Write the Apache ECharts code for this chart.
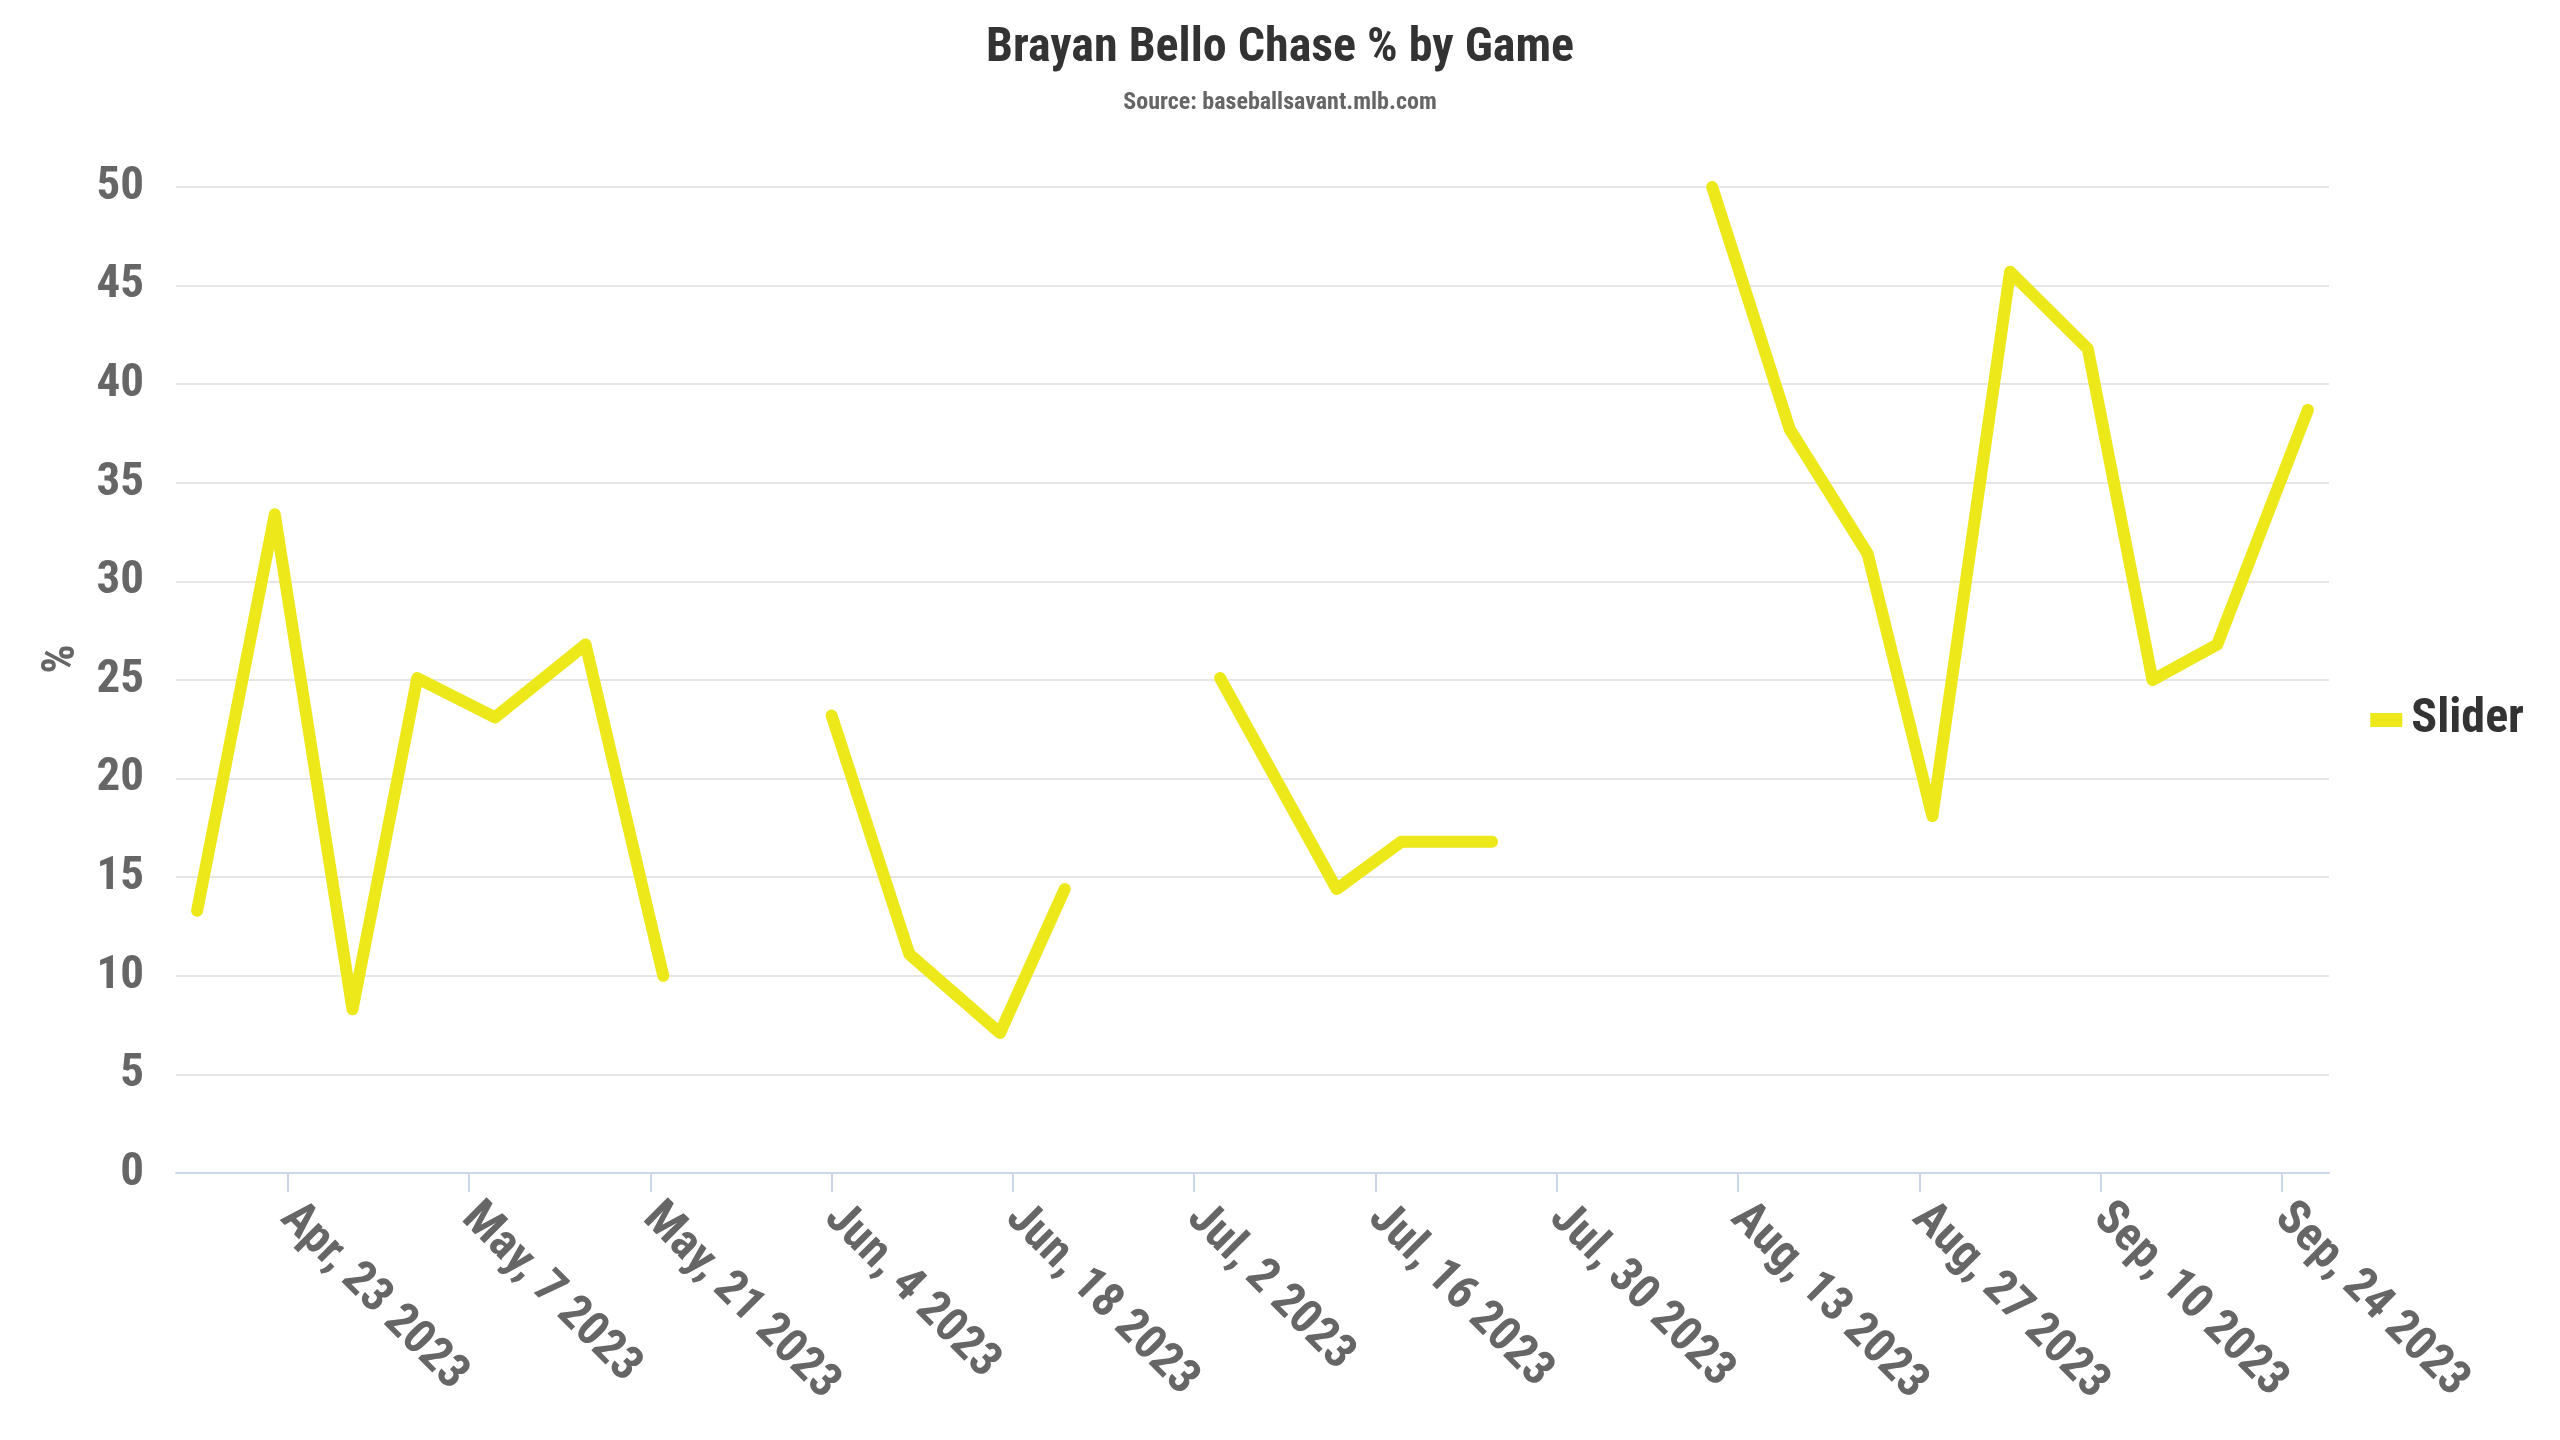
<!DOCTYPE html>
<html>
<head>
<meta charset="utf-8">
<title>Brayan Bello Chase % by Game</title>
<script src="https://cdn.jsdelivr.net/npm/echarts@6/dist/echarts.min.js"></script>
<style>
  html, body { margin: 0; padding: 0; background: #fff; }
  #chart { width: 2560px; height: 1440px; }
</style>
</head>
<body>
<div id="chart"></div>
<script>
// game dates (null = game without a slider reading, breaks the line)
const gameDates = [
  '2023-04-16', '2023-04-22', '2023-04-28', '2023-05-03', '2023-05-09',
  '2023-05-16', '2023-05-22', '2023-05-28', '2023-06-04', '2023-06-10',
  '2023-06-17', '2023-06-22', '2023-06-28', '2023-07-04', '2023-07-13',
  '2023-07-18', '2023-07-25', '2023-08-04', '2023-08-11', '2023-08-17',
  '2023-08-23', '2023-08-28', '2023-09-03', '2023-09-09', '2023-09-14',
  '2023-09-19', '2023-09-26'
];
const sliderChase = [
  13.3, 33.4, 8.3, 25.1, 23.1,
  26.8, 10.0, null, 23.2, 11.1,
  7.1, 14.4, null, 25.1, 14.4,
  16.8, 16.8, null, 50.0, 37.7,
  31.4, 18.1, 45.7, 41.8, 25.0,
  26.8, 38.7
];
const tickDates = [
  '2023-04-23', '2023-05-07', '2023-05-21', '2023-06-04', '2023-06-18',
  '2023-07-02', '2023-07-16', '2023-07-30', '2023-08-13', '2023-08-27',
  '2023-09-10', '2023-09-24'
];
const yTicks = [0, 5, 10, 15, 20, 25, 30, 35, 40, 45, 50];
const monthNames = ['Jan', 'Feb', 'Mar', 'Apr', 'May', 'Jun', 'Jul', 'Aug', 'Sep', 'Oct', 'Nov', 'Dec'];

const FONT = "'Roboto Condensed', Roboto, sans-serif";

function toTs(s) {
  return new Date(s + 'T00:00:00').getTime();
}

const seriesData = gameDates.map((d, i) => [toTs(d), sliderChase[i]]);
const tickValues = tickDates.map(toTs);

// 1% padding on both ends of the date range
const first = toTs(gameDates[0]);
const last = toTs(gameDates[gameDates.length - 1]);
const pad = (last - first) * 0.01;

const chart = echarts.init(document.getElementById('chart'));

const option = {
  animation: false,
  backgroundColor: '#ffffff',
  title: {
    text: 'Brayan Bello Chase % by Game',
    subtext: 'Source: baseballsavant.mlb.com',
    left: 'center',
    top: 20,
    itemGap: 18,
    textStyle: {
      fontFamily: FONT,
      fontWeight: 'bold',
      fontSize: 48,
      color: '#333333'
    },
    subtextStyle: {
      fontFamily: FONT,
      fontWeight: 'bold',
      fontSize: 24,
      color: '#666666'
    }
  },
  legend: {
    orient: 'vertical',
    right: 31,
    top: 'middle',
    icon: 'rect',
    itemWidth: 32,
    itemHeight: 14,
    textStyle: {
      fontFamily: FONT,
      fontWeight: 'bold',
      fontSize: 48,
      color: '#333333',
      padding: [0, 0, 0, 4]
    },
    data: ['Slider']
  },
  grid: {
    left: 176,
    right: 231,
    top: 187,
    bottom: 267
  },
  xAxis: {
    type: 'value',
    min: first - pad,
    max: last + pad,
    axisLine: { lineStyle: { color: '#ccd6eb', width: 2 } },
    axisTick: {
      show: true,
      length: 19,
      customValues: tickValues,
      lineStyle: { color: '#ccd6eb', width: 2 }
    },
    axisLabel: {
      customValues: tickValues,
      rotate: -45,
      margin: 38,
      fontFamily: FONT,
      fontWeight: 'bold',
      fontSize: 48,
      color: '#666666',
      formatter: function (v) {
        const d = new Date(v);
        return monthNames[d.getMonth()] + ', ' + d.getDate() + ' ' + d.getFullYear();
      }
    },
    splitLine: { show: false }
  },
  yAxis: {
    type: 'value',
    name: '%',
    nameLocation: 'middle',
    nameGap: 89,
    nameTextStyle: {
      fontFamily: FONT,
      fontWeight: 'bold',
      fontSize: 46,
      color: '#666666',
      padding: [0, 0, 0, 42]
    },
    min: yTicks[0],
    max: yTicks[yTicks.length - 1],
    interval: 5,
    axisLine: { show: false },
    axisTick: { show: false },
    axisLabel: {
      margin: 32,
      fontFamily: FONT,
      fontWeight: 'bold',
      fontSize: 47,
      color: '#666666'
    },
    splitLine: { lineStyle: { color: '#e6e6e6', width: 2 } }
  },
  series: [
    {
      name: 'Slider',
      type: 'line',
      data: seriesData,
      showSymbol: false,
      symbol: 'none',
      connectNulls: false,
      color: '#ece81a',
      lineStyle: {
        color: '#ece81a',
        width: 12,
        cap: 'round',
        join: 'round'
      }
    }
  ]
};

chart.setOption(option);
</script>
</body>
</html>
